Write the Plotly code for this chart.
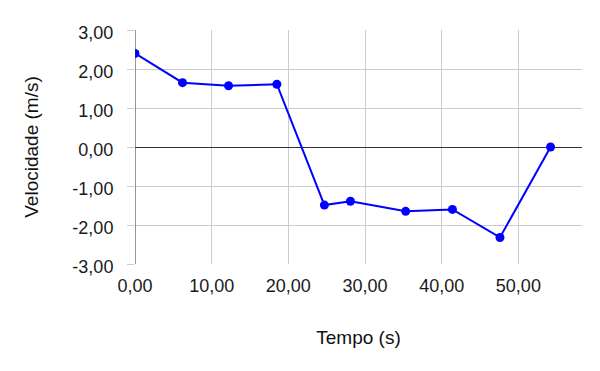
import plotly.graph_objects as go

tempo = [0.0, 6.2, 12.2, 18.5, 24.7, 28.1, 35.3, 41.4, 47.6, 54.2]
velocidade = [2.40, 1.65, 1.57, 1.61, -1.49, -1.39, -1.65, -1.60, -2.32, 0.0]
x_ticks = [0, 10, 20, 30, 40, 50]
y_ticks = [-3, -2, -1, 0, 1, 2, 3]


def fmt(v):
    return f"{v:.2f}".replace(".", ",")


fig = go.Figure()
fig.add_trace(go.Scatter(
    x=tempo, y=velocidade, mode="lines+markers",
    line=dict(color="#0000ff", width=2),
    marker=dict(color="#0000ff", size=9),
    showlegend=False,
))

font = "Arial, Liberation Sans, sans-serif"
fig.update_layout(
    width=600, height=371,
    margin=dict(l=135, r=18, t=30, b=107),
    paper_bgcolor="white", plot_bgcolor="white",
    font=dict(family=font, size=18, color="#222222"),
    xaxis=dict(
        range=[0, 58.3], tickvals=x_ticks, ticktext=[fmt(v) for v in x_ticks],
        showgrid=True, gridcolor="#cccccc", gridwidth=1,
        zeroline=False, showline=False,
        ticks="outside", ticklen=5, tickcolor="rgba(0,0,0,0)",
        title=dict(text="Tempo (s)", font=dict(size=19, color="#111111"), standoff=36),
        tickfont=dict(size=18, color="#1a1a1a"),
    ),
    yaxis=dict(
        range=[-3, 3], tickvals=y_ticks, ticktext=[fmt(v) for v in y_ticks],
        showgrid=True, gridcolor="#cccccc", gridwidth=1,
        zeroline=True, zerolinecolor="#333333", zerolinewidth=1,
        showline=False, ticks="outside", ticklen=7, tickcolor="#cccccc",
        ticklabelstandoff=10, ticklabelshift=3,
        title=dict(text="Velocidade (m/s)", font=dict(size=19, color="#111111"), standoff=28),
        tickfont=dict(size=18, color="#1a1a1a"),
    ),
    shapes=[dict(type="line", xref="x", yref="paper", x0=0, x1=0, y0=0, y1=1,
                 line=dict(color="#333333", width=1), layer="above")],
)

fig.write_html("out.html")
